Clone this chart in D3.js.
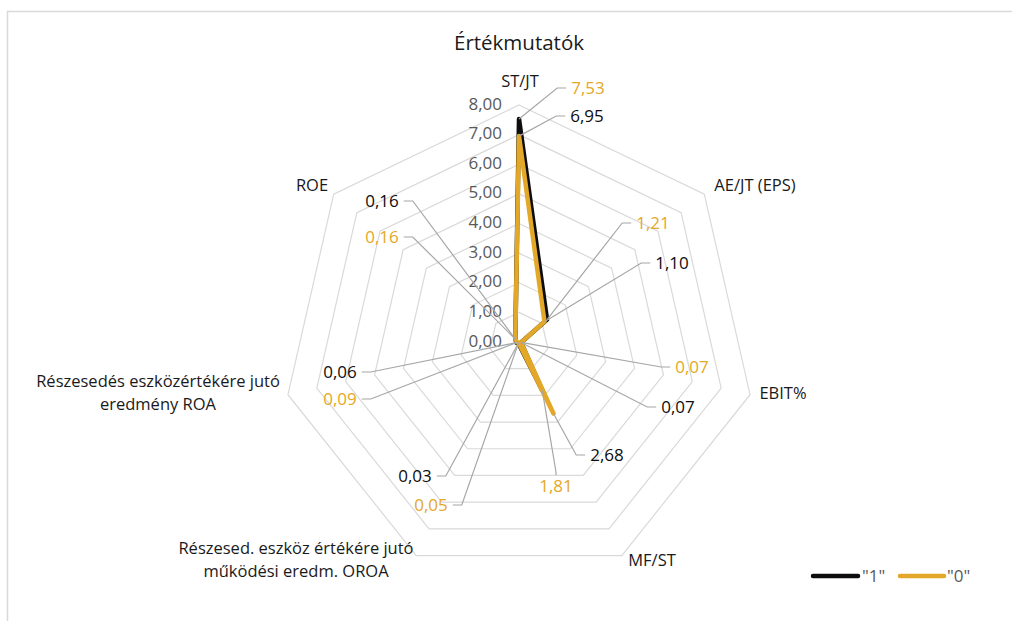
<!DOCTYPE html>
<html>
<head>
<meta charset="utf-8">
<script src="https://cdn.jsdelivr.net/npm/d3@7"></script>
<style>
  html, body { margin: 0; padding: 0; background: #fff; }
  svg { display: block; font-family: "Open Sans", "Noto Sans", sans-serif; }
</style>
</head>
<body>
<svg id="chart" width="1012" height="621"></svg>
<script>
// Radar axes, clockwise from the top
const categories = [
  ["ST/JT"],
  ["AE/JT (EPS)"],
  ["EBIT%"],
  ["MF/ST"],
  ["Részesed. eszköz értékére jutó", "működési eredm. OROA"],
  ["Részesedés eszközértékére jutó", "eredmény ROA"],
  ["ROE"]
];
const seriesNames = ['"1"', '"0"'];
const values1 = [7.53, 1.21, 0.07, 1.81, 0.05, 0.09, 0.16];
const values0 = [6.95, 1.10, 0.07, 2.68, 0.03, 0.06, 0.16];
const tickValues = [0, 1, 2, 3, 4, 5, 6, 7, 8];

// Layout: centre, radius, category label anchors and data-label anchors
const cx = 519, cy = 342, outerR = 237;
const catPos = [[520, 83], [755, 187], [783, 395], [652, 562], [296, 550], [158, 383], [312, 187]];
const labelPos1 = [[588, 89], [653, 224], [692, 368], [556, 487], [431, 506], [340, 400], [382, 238]];
const labelPos0 = [[587, 117], [672, 264], [678, 408], [607, 456], [415, 477], [340, 373], [382, 202]];

const colBlack = "#0d0d0d", colGold = "#E4A828";
const series = [
  { name: seriesNames[0], values: values1, color: colBlack, labelColor: colGold, pos: labelPos1 },
  { name: seriesNames[1], values: values0, color: colGold, labelColor: colBlack, pos: labelPos0 }
];

const svg = d3.select("#chart");
const n = categories.length;
const r = d3.scaleLinear().domain([0, 8]).range([0, outerR]);
const angle = i => i * 2 * Math.PI / n;
const pt = (i, v) => [cx + r(v) * Math.sin(angle(i)), cy - r(v) * Math.cos(angle(i))];
const fmt = v => d3.format(".2f")(v).replace(".", ",");

// Chart area border
svg.append("rect").attr("x", 7.5).attr("y", 11.5).attr("width", 1100).attr("height", 700)
  .attr("fill", "none").attr("stroke", "#d9d9d9").attr("stroke-width", 1.5);

// Title
svg.append("text").attr("x", cx).attr("y", 45).attr("text-anchor", "middle")
  .attr("dominant-baseline", "middle").attr("font-size", 20.5).attr("fill", "#1a1a1a")
  .text("Értékmutatók");

// Heptagonal gridlines
const g = svg.append("g");
const gridLine = d3.lineRadial().angle((d, i) => angle(i)).radius(d => r(d)).curve(d3.curveLinearClosed);
tickValues.filter(t => t > 0).forEach(t => {
  g.append("path").attr("transform", `translate(${cx},${cy})`)
    .attr("d", gridLine(d3.range(n).map(() => t)))
    .attr("fill", "none").attr("stroke", "#d9d9d9").attr("stroke-width", 1.2);
});

// Value axis labels along the top spoke
g.selectAll("text.tick").data(tickValues).join("text").attr("class", "tick")
  .attr("x", cx - 17).attr("y", d => cy - r(d)).attr("text-anchor", "end")
  .attr("dominant-baseline", "middle").attr("font-size", 17).attr("fill", "#595959")
  .text(fmt);

// Category labels
categories.forEach((lines, i) => {
  const t = svg.append("text").attr("text-anchor", "middle").attr("font-size", 16.5).attr("fill", "#1a1a1a");
  lines.forEach((s, k) => {
    t.append("tspan").attr("x", catPos[i][0]).attr("y", catPos[i][1] + k * 23)
      .attr("dominant-baseline", "middle").text(s);
  });
});

// Series polygons
const seriesLine = d3.lineRadial().angle((d, i) => angle(i)).radius(d => r(d)).curve(d3.curveLinearClosed);
series.forEach(s => {
  svg.append("path").attr("transform", `translate(${cx},${cy})`)
    .attr("d", seriesLine(s.values)).attr("fill", "none")
    .attr("stroke", s.color).attr("stroke-width", 4.5).attr("stroke-linejoin", "round");
});

// Data labels with leader lines
const leaders = svg.append("g");
series.forEach(s => {
  s.values.forEach((v, i) => {
    const [lx, ly] = s.pos[i];
    const t = svg.append("text").attr("x", lx).attr("y", ly).attr("text-anchor", "middle")
      .attr("dominant-baseline", "middle").attr("font-size", 17).attr("fill", s.labelColor)
      .text(fmt(v));
    const w = t.node().getComputedTextLength();
    const [px, py] = pt(i, v);
    let pts;
    if (Math.abs(lx - px) < w) {
      const top = ly - 12;
      pts = [[lx, top], [lx, top - 3], [px, py]];
    } else if (lx > px) {
      const ex = lx - w / 2 - 5;
      pts = [[ex, ly - 1], [ex - 9, ly - 1], [px, py]];
    } else {
      const ex = lx + w / 2 + 5;
      pts = [[ex, ly - 1], [ex + 9, ly - 1], [px, py]];
    }
    leaders.append("path").attr("d", d3.line()(pts)).attr("fill", "none")
      .attr("stroke", "#a6a6a6").attr("stroke-width", 1.2);
  });
});

// Legend
const legend = svg.append("g");
const legendItems = [[813, 858, 862], [900, 944, 947]];
series.forEach((s, k) => {
  const [x1, x2, tx] = legendItems[k];
  legend.append("line").attr("x1", x1).attr("x2", x2).attr("y1", 576).attr("y2", 576)
    .attr("stroke", s.color).attr("stroke-width", 4.5).attr("stroke-linecap", "round");
  legend.append("text").attr("x", tx).attr("y", 577).attr("dominant-baseline", "middle")
    .attr("font-size", 17).attr("fill", "#595959").text(s.name);
});
</script>
</body>
</html>
